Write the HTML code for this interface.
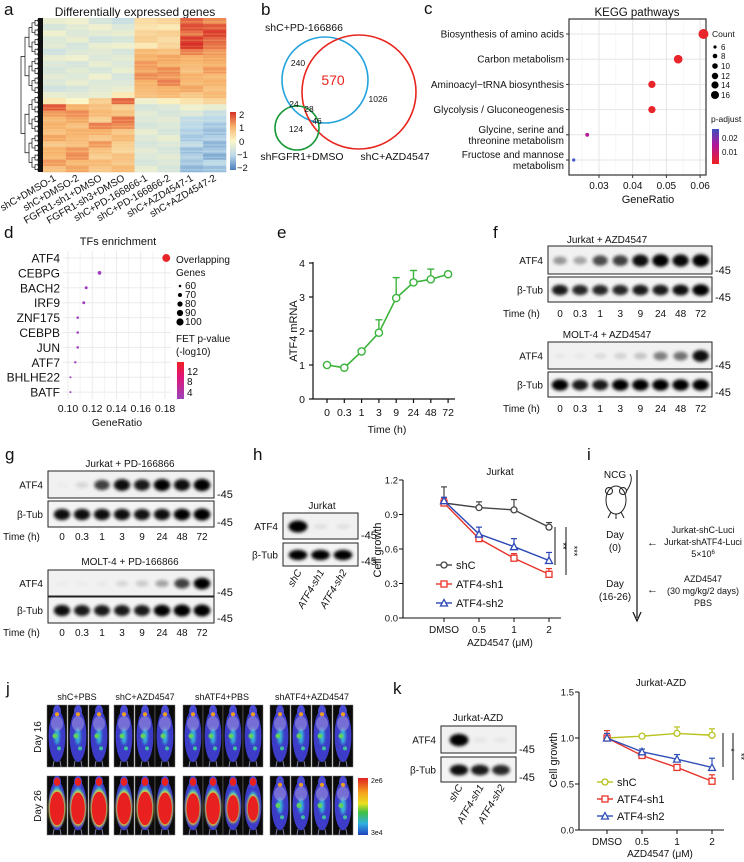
<!DOCTYPE html>
<html><head><meta charset="utf-8">
<style>
html,body{margin:0;padding:0;background:#fff;}
svg{display:block;font-family:"Liberation Sans",Arial,sans-serif;}
text{fill:#111;}
</style></head>
<body>
<svg id="fig" width="744" height="862" viewBox="0 0 744 862" xmlns="http://www.w3.org/2000/svg">
<defs>
<filter id="blur" x="-50%" y="-50%" width="200%" height="200%"><feGaussianBlur stdDeviation="1.5"/></filter>
<filter id="blur2" x="-50%" y="-50%" width="200%" height="200%"><feGaussianBlur stdDeviation="1.2"/></filter>
<linearGradient id="hmbar" x1="0" y1="0" x2="0" y2="1">
<stop offset="0" stop-color="#d73027"/><stop offset="0.25" stop-color="#f6b26b"/><stop offset="0.5" stop-color="#fbf6c8"/><stop offset="0.75" stop-color="#bcd9ea"/><stop offset="1" stop-color="#4a7ebb"/></linearGradient>
<linearGradient id="padj" x1="0" y1="0" x2="0" y2="1"><stop offset="0" stop-color="#3d4fc0"/><stop offset="0.45" stop-color="#b0169a"/><stop offset="1" stop-color="#ee2020"/></linearGradient>
<linearGradient id="fet" x1="0" y1="0" x2="0" y2="1"><stop offset="0" stop-color="#ee2222"/><stop offset="0.4" stop-color="#e0157a"/><stop offset="1" stop-color="#9a44b8"/></linearGradient>
<linearGradient id="lum" x1="0" y1="0" x2="0" y2="1"><stop offset="0" stop-color="#e02020"/><stop offset="0.25" stop-color="#f5a020"/><stop offset="0.45" stop-color="#e8e020"/><stop offset="0.6" stop-color="#40c040"/><stop offset="0.8" stop-color="#30b0e0"/><stop offset="1" stop-color="#2040c0"/></linearGradient>
</defs>

<g font-size="17">
<text x="4" y="15">a</text><text x="261" y="15">b</text><text x="424" y="14">c</text>
<text x="4" y="238">d</text><text x="277" y="238">e</text><text x="493" y="238">f</text>
<text x="5" y="460">g</text><text x="253" y="460">h</text><text x="587" y="460">i</text>
<text x="6" y="694">j</text><text x="393" y="694">k</text>
</g>

<g id="pa">
<text x="135" y="16" font-size="12" text-anchor="middle">Differentially expressed genes</text>
<g id="dendro"></g>
<g id="hm"></g>
<rect x="230" y="112" width="6" height="58" fill="url(#hmbar)"/>
<g font-size="9.5">
<text x="239" y="118">2</text><text x="239" y="131">1</text><text x="239" y="145">0</text><text x="237" y="158">−1</text><text x="237" y="171">−2</text></g>
<g id="hmcols" font-size="10"></g>
</g>

<g>
<text x="304" y="31" font-size="10.5" text-anchor="middle">shC+PD-166866</text>
<circle cx="325" cy="80" r="43" fill="none" stroke="#23a3dd" stroke-width="1.6"/>
<circle cx="359" cy="92" r="57" fill="none" stroke="#e8261e" stroke-width="1.6"/>
<circle cx="297" cy="128" r="22" fill="none" stroke="#1a9a3a" stroke-width="1.6"/>
<g font-size="8.5"><text x="298" y="66" text-anchor="middle">240</text><text x="378" y="102" text-anchor="middle">1026</text>
<text x="294" y="107" text-anchor="middle">24</text><text x="309" y="112" text-anchor="middle">28</text><text x="317" y="124" text-anchor="middle">46</text><text x="296" y="132" text-anchor="middle">124</text></g>
<text x="333" y="85" font-size="14" style="fill:#e8261e" text-anchor="middle">570</text>
<text x="302" y="160" font-size="10.5" text-anchor="middle">shFGFR1+DMSO</text>
<text x="395" y="160" font-size="10.5" text-anchor="middle">shC+AZD4547</text>
</g>

<g id="pc">
<text x="637" y="16" font-size="11.5" text-anchor="middle">KEGG pathways</text>
<g id="cgrid"></g>
<rect x="569" y="19" width="137" height="156" fill="none" stroke="#333" stroke-width="1.2"/>
<g id="clabels" font-size="10" text-anchor="end"></g>
<g id="cdots"></g>
<g id="cticks" font-size="10" text-anchor="middle"></g>
<text x="648" y="203" font-size="11" text-anchor="middle">GeneRatio</text>
<g font-size="8">
<text x="712" y="37" font-size="8.5">Count</text>
<circle cx="715" cy="47" r="1.6"/><text x="721" y="50">6</text>
<circle cx="715" cy="56" r="2.3"/><text x="721" y="59">8</text>
<circle cx="715" cy="66" r="2.8"/><text x="721" y="69">10</text>
<circle cx="715" cy="76" r="3.2"/><text x="721" y="79">12</text>
<circle cx="715" cy="85" r="3.6"/><text x="721" y="88">14</text>
<circle cx="715" cy="95" r="4"/><text x="721" y="98">16</text>
<text x="711" y="122" font-size="8.5">p-adjust</text>
<rect x="712" y="129" width="7" height="35" fill="url(#padj)"/>
<text x="722" y="141">0.02</text><text x="722" y="155">0.01</text></g>
</g>

<g id="pd">
<text x="118" y="245" font-size="11" text-anchor="middle">TFs enrichment</text>
<g id="dgrid"></g>
<g id="dlabels" font-size="12" text-anchor="end"></g>
<g id="ddots"></g>
<g id="dticks" font-size="10.5" text-anchor="middle"></g>
<text x="117" y="426" font-size="10.5" text-anchor="middle">GeneRatio</text>
<g font-size="10">
<text x="176" y="263">Overlapping</text><text x="176" y="276">Genes</text>
<circle cx="180" cy="286" r="1.3"/><text x="185" y="289">60</text>
<circle cx="180" cy="295" r="2"/><text x="185" y="298">70</text>
<circle cx="180" cy="304" r="2.6"/><text x="185" y="307">80</text>
<circle cx="180" cy="313" r="3.1"/><text x="185" y="316">90</text>
<circle cx="180" cy="322" r="3.6"/><text x="185" y="325">100</text>
<text x="176" y="342">FET p-value</text><text x="176" y="355">(-log10)</text>
<rect x="177" y="362" width="7" height="37" fill="url(#fet)"/>
<text x="187" y="375">12</text><text x="187" y="385">8</text><text x="187" y="396">4</text></g>
</g>

<g id="pe">
<text transform="translate(297,331) rotate(-90)" font-size="11" text-anchor="middle">ATF4 mRNA</text>
<line x1="313" y1="262" x2="313" y2="399.5" stroke="#111" stroke-width="1.2"/>
<line x1="313" y1="399" x2="455" y2="399" stroke="#111" stroke-width="1.2"/>
<g id="eticks" font-size="10.5"></g>
<g id="eline"></g>
<text x="387" y="433" font-size="10.5" text-anchor="middle">Time (h)</text>
</g>

<g id="pf" font-size="10"></g>
<g id="pg" font-size="10"></g>
<g id="ph" font-size="10"></g>

<g font-size="9">
<text x="615" y="478" font-size="10" text-anchor="middle">NCG</text>
<g fill="none" stroke="#222" stroke-width="1">
<ellipse cx="616" cy="500" rx="10" ry="14"/>
<circle cx="609" cy="491" r="3.5"/><circle cx="623" cy="491" r="3.5"/>
<path d="M611 512 l-3 6 M621 512 l3 6 M616 514 l0 5 M626 492 q8 -12 4 -18"/></g>
<line x1="637" y1="470" x2="637" y2="618" stroke="#111" stroke-width="1.2"/>
<path d="M633 612 L637 621 L641 612" fill="none" stroke="#111" stroke-width="1.2"/>
<text x="615" y="538" font-size="10" text-anchor="middle">Day</text><text x="615" y="551" font-size="10" text-anchor="middle">(0)</text>
<text x="615" y="587" font-size="10" text-anchor="middle">Day</text><text x="615" y="600" font-size="10" text-anchor="middle">(16-26)</text>
<text x="647" y="546" font-size="11">←</text><text x="647" y="593" font-size="11">←</text>
<g text-anchor="middle"><text x="703" y="533">Jurkat-shC-Luci</text><text x="703" y="545">Jurkat-shATF4-Luci</text><text x="703" y="557">5×10<tspan font-size="6" dy="-3">6</tspan></text>
<text x="703" y="582">AZD4547</text><text x="703" y="594">(30 mg/kg/2 days)</text><text x="703" y="606">PBS</text></g>
</g>

<g id="pj" font-size="9">
<text x="77" y="700" text-anchor="middle">shC+PBS</text><text x="145" y="700" text-anchor="middle">shC+AZD4547</text>
<text x="222" y="700" text-anchor="middle">shATF4+PBS</text><text x="312" y="700" text-anchor="middle">shATF4+AZD4547</text>
<text transform="translate(41,737) rotate(-90)" font-size="10" text-anchor="middle">Day 16</text>
<text transform="translate(41,806) rotate(-90)" font-size="10" text-anchor="middle">Day 26</text>
<rect x="358" y="778" width="10" height="57" fill="url(#lum)"/>
<text x="371" y="783" font-size="7">2e6</text><text x="371" y="835" font-size="7">3e4</text>
</g>

<g id="pk" font-size="10"></g>
</svg>

<script>
const hmValues = [
[-0.3,-0.2,-0.6,-0.8,0.4,0.5,1.6,1.3],
[-0.6,-0.4,-0.2,-0.5,0.3,0.2,1.8,1.7],
[-0.2,-0.5,-0.4,-0.3,0.5,0.6,1.5,1.9],
[-0.5,-0.3,-0.7,-0.6,0.6,0.4,1.9,1.6],
[-0.4,-0.6,-0.3,-0.2,0.2,0.5,2.0,1.5],
[-0.7,-0.5,-0.4,-0.6,0.9,0.8,1.4,1.2],
[-0.3,-0.2,-0.5,-0.4,1.0,1.1,1.0,1.1],
[-0.5,-0.6,-0.3,-0.5,1.2,1.0,0.9,1.0],
[-0.6,-0.4,-0.6,-0.3,1.1,1.3,0.8,1.2],
[-0.4,-0.5,-0.2,-0.6,1.3,1.2,1.0,0.9],
[-0.5,-0.3,-0.5,-0.5,1.0,1.4,0.9,1.0],
[-0.7,-0.6,-0.4,-0.3,0.9,1.0,1.1,0.8],
[-0.3,-0.4,-0.3,0.2,0.8,0.9,0.7,0.9],
[0.2,0.0,0.6,1.6,-0.2,0.1,0.3,0.5],
[1.7,1.0,0.8,0.6,-0.6,-0.5,-0.2,-0.3],
[1.2,1.3,0.9,0.8,-0.4,-0.6,-0.5,-0.8],
[0.9,1.1,0.6,1.5,-0.5,-0.4,-0.9,-1.0],
[1.0,0.8,1.4,1.3,-0.6,-0.5,-1.0,-1.2],
[0.8,1.0,1.0,0.7,-0.3,-0.6,-1.1,-1.3],
[1.1,0.9,0.7,0.9,-0.5,-0.3,-1.2,-1.1],
[0.7,0.8,1.2,0.6,-0.6,-0.5,-0.9,-1.4],
[1.0,1.2,0.8,0.5,-0.4,-0.6,-1.3,-1.2],
[0.9,1.3,0.6,0.8,-0.5,-0.4,-1.1,-1.5],
[1.2,0.9,0.9,0.7,-0.6,-0.5,-1.2,-1.0],
[0.8,1.1,0.7,0.9,-0.3,-0.6,-1.4,-1.3]];
const hmSamples = ["shC+DMSO-1","shC+DMSO-2","FGFR1-sh1+DMSO","FGFR1-sh3+DMSO","shC+PD-166866-1","shC+PD-166866-2","shC+AZD4547-1","shC+AZD4547-2"];

const keggTerms = ["Biosynthesis of amino acids","Carbon metabolism","Aminoacyl−tRNA biosynthesis","Glycolysis / Gluconeogenesis","Glycine, serine and|threonine metabolism","Fructose and mannose|metabolism"];
const keggRatio = [0.061,0.0535,0.0457,0.0457,0.0265,0.0225];
const keggCount = [16,14,12,12,7,6];
const keggPadj = [0.003,0.003,0.004,0.004,0.013,0.024];
const keggTicks = [0.03,0.04,0.05,0.06];

const tfNames = ["ATF4","CEBPG","BACH2","IRF9","ZNF175","CEBPB","JUN","ATF7","BHLHE22","BATF"];
const tfRatio = [0.181,0.126,0.115,0.113,0.108,0.108,0.108,0.106,0.102,0.102];
const tfGenes = [100,70,65,64,62,62,62,61,58,58];
const tfP = [13,5,4,4,4,4,4,4,3,3];
const tfTicks = [0.10,0.12,0.14,0.16,0.18];

const timeLabels = ["0","0.3","1","3","9","24","48","72"];
const atf4Mrna = [1.0,0.92,1.4,1.95,2.97,3.43,3.52,3.67];
const atf4Err = [0.02,0.02,0.02,0.38,0.6,0.35,0.3,0.06];
const eTicks = [0,1,2,3,4];

const fJurkatAtf4 = [0.35,0.3,0.65,0.7,0.9,0.95,0.92,0.98];
const fJurkatTub = [0.85,0.8,0.8,0.8,0.85,0.85,0.9,1.0];
const fMoltAtf4 = [0.03,0.03,0.08,0.12,0.18,0.45,0.5,0.9];
const fMoltTub = [0.95,0.85,0.85,0.95,0.95,0.95,0.95,0.95];
const gJurkatAtf4 = [0.02,0.1,0.7,0.9,0.85,0.95,0.9,0.98];
const gJurkatTub = [0.9,0.9,0.9,0.9,0.88,0.9,0.95,1.0];
const gMoltAtf4 = [0.02,0.02,0.03,0.1,0.15,0.3,0.7,0.95];
const gMoltTub = [0.9,0.85,0.85,0.85,0.85,0.95,1.0,1.0];
const kdLanes = ["shC","ATF4-sh1","ATF4-sh2"];
const hKdAtf4 = [1.0,0.06,0.06];
const hKdTub = [0.95,0.95,0.95];
const kKdAtf4 = [1.0,0.04,0.04];
const kKdTub = [0.9,0.85,0.8];

const doseLabels = ["DMSO","0.5","1","2"];
const hShC = [1.0,0.96,0.94,0.79];
const hShCErr = [0.14,0.05,0.09,0.04];
const hSh1 = [1.0,0.69,0.52,0.38];
const hSh1Err = [0.04,0.02,0.04,0.05];
const hSh2 = [1.02,0.73,0.62,0.50];
const hSh2Err = [0.03,0.06,0.07,0.07];
const hTicks = [0.0,0.3,0.6,0.9,1.2];

const kShC = [1.0,1.02,1.05,1.03];
const kShCErr = [0.05,0.02,0.07,0.07];
const kSh1 = [1.0,0.81,0.68,0.53];
const kSh1Err = [0.08,0.03,0.03,0.07];
const kSh2 = [1.0,0.85,0.77,0.68];
const kSh2Err = [0.05,0.03,0.05,0.1];
const kTicks = [0.0,0.5,1.0,1.5];

const lumDay16 = [[0.3,0.35,0.3],[0.3,0.35,0.3],[0.3,0.3,0.3,0.25],[0.25,0.25,0.3,0.3]];
const lumDay26 = [[0.95,0.9,0.95],[0.9,0.95,0.9],[0.85,0.9,0.75,0.7],[0.35,0.3,0.4,0.45]];

const NS="http://www.w3.org/2000/svg";
function E(tag,attrs,parent){const el=document.createElementNS(NS,tag);for(const k in attrs)el.setAttribute(k,attrs[k]);parent.appendChild(el);return el;}
function T(txt,attrs,parent){const el=E('text',attrs,parent);el.textContent=txt;return el;}
const $=id=>document.getElementById(id);

function lerp(a,b,t){return a+(b-a)*t;}
const hmStops=[[-2,[74,126,187]],[-1,[188,217,234]],[0,[251,246,200]],[1,[246,178,107]],[2,[215,48,39]]];
function hmColor(v){v=Math.max(-2,Math.min(2,v));for(let i=0;i<4;i++){const a=hmStops[i],b=hmStops[i+1];if(v<=b[0]){const t=(v-a[0])/(b[0]-a[0]);return 'rgb('+a[1].map((c,j)=>Math.round(lerp(c,b[1][j],t))).join(',')+')';}}return 'rgb(215,48,39)';}
const hmX0=43,hmX1=226,hmY0=18,hmY1=172;
const cw=(hmX1-hmX0)/hmSamples.length, rh=(hmY1-hmY0)/hmValues.length;
hmValues.forEach((row,r)=>row.forEach((v,c)=>{
  const el=E('rect',{x:hmX0+c*cw,y:hmY0+r*rh,width:cw+0.3,height:rh+0.3,fill:hmColor(v)},$('hm'));
  
  
  E('rect',{x:hmX0+c*cw,y:hmY0+r*rh+rh*0.5,width:cw+0.3,height:rh*0.25,fill:hmColor(v*0.8),opacity:0.7},$('hm'));
}));
hmSamples.forEach((s,c)=>{
  const el=T(s,{transform:'translate('+(hmX0+c*cw+cw*0.6)+',180) rotate(-30)','text-anchor':'end'},$('hmcols'));
  
  
});
(function(){const g=$('dendro');
 E('rect',{x:38,y:18,width:5,height:154,fill:'#111'},g);
 function br(y0,y1,x,depth){if(depth>5)return;const ym=(y0+y1)/2;const xa=x+ (depth<2?4:3);
  E('path',{d:'M'+xa+' '+((y0+ym)/2)+' L'+x+' '+((y0+ym)/2)+' L'+x+' '+((ym+y1)/2)+' L'+xa+' '+((ym+y1)/2),fill:'none',stroke:'#111','stroke-width':0.7},g);
  br(y0,ym,xa,depth+1);br(ym,y1,xa,depth+1);}
 br(18,172,21,0);})();

const xC=v=>599+(v-0.03)*3370, yC=i=>34+i*25.2;
keggTicks.forEach(t=>{E('line',{x1:xC(t),y1:19,x2:xC(t),y2:175,stroke:'#e6e6e6','stroke-width':1},$('cgrid'));
 E('line',{x1:xC(t-0.005),y1:19,x2:xC(t-0.005),y2:175,stroke:'#f2f2f2','stroke-width':0.6},$('cgrid'));
 E('line',{x1:xC(t),y1:175,x2:xC(t),y2:178,stroke:'#333'},$('cticks'));
 const el=T(t.toFixed(2),{x:xC(t),y:189},$('cticks'));
 
 });
keggTerms.forEach((n,i)=>{E('line',{x1:569,y1:yC(i),x2:706,y2:yC(i),stroke:'#e6e6e6'},$('cgrid'));
 E('line',{x1:566,y1:yC(i),x2:569,y2:yC(i),stroke:'#333'},$('clabels'));
 const parts=n.split('|');
 parts.forEach((p,j)=>{const el=T(p,{x:564,y:yC(i)+3.5+(j-(parts.length-1)/2)*11},$('clabels'));
  
  });});
function padjColor(p){if(p<0.008)return '#e8252a';if(p<0.018)return '#b8179a';return '#3d55c8';}
keggRatio.forEach((v,i)=>{const el=E('circle',{cx:xC(v),cy:yC(i),r:1.6+(keggCount[i]-6)*0.34,fill:padjColor(keggPadj[i])},$('cdots'));
 
 });

const xD=v=>68+(v-0.10)*1213, yD=i=>258+i*14.9;
E('rect',{x:63,y:251,width:108,height:148,fill:'#fff'},$('dgrid'));
tfTicks.forEach(t=>{E('line',{x1:xD(t),y1:251,x2:xD(t),y2:399,stroke:'#ebebeb'},$('dgrid'));
 E('line',{x1:xD(t+0.01),y1:251,x2:xD(t+0.01),y2:399,stroke:'#f3f3f3'},$('dgrid'));
 const el=T(t.toFixed(2),{x:xD(t),y:412},$('dticks'));
 
 });
tfNames.forEach((n,i)=>{E('line',{x1:63,y1:yD(i),x2:171,y2:yD(i),stroke:'#ebebeb'},$('dgrid'));
 const el=T(n,{x:60,y:yD(i)+4.5},$('dlabels'));
 
 });
tfRatio.forEach((v,i)=>{const el=E('circle',{cx:xD(v),cy:yD(i),r:1+(tfGenes[i]-58)*0.07,fill:tfP[i]>10?'#e8262a':'#a23cc0'},$('ddots'));
 
 });

const xE=i=>327+i*17.3, yE=v=>399-v*34;
eTicks.forEach(t=>{E('line',{x1:309,y1:yE(t),x2:313,y2:yE(t),stroke:'#111','stroke-width':1.2},$('eticks'));
 const el=T(String(t),{x:305,y:yE(t)+4,'text-anchor':'end'},$('eticks'));
 
 });
timeLabels.forEach((t,i)=>{E('line',{x1:xE(i),y1:399,x2:xE(i),y2:403,stroke:'#111','stroke-width':1.2},$('eticks'));
 const el=T(t,{x:xE(i),y:416,'text-anchor':'middle'},$('eticks'));
 
 });
(function(){const g=$('eline');const col='#3cb43c';
 atf4Mrna.forEach((v,i)=>{if(atf4Err[i]>0.05){const ey=yE(v+atf4Err[i]);E('line',{x1:xE(i),y1:yE(v),x2:xE(i),y2:ey,stroke:col,'stroke-width':1.4},g);E('line',{x1:xE(i)-3.5,y1:ey,x2:xE(i)+3.5,y2:ey,stroke:col,'stroke-width':1.4},g);}});
 const pl=E('polyline',{points:atf4Mrna.map((v,i)=>xE(i)+','+yE(v)).join(' '),fill:'none',stroke:col,'stroke-width':1.6},g);
 
 
 atf4Mrna.forEach((v,i)=>{const c=E('circle',{cx:xE(i),cy:yE(v),r:3.6,fill:'#fff',stroke:col,'stroke-width':1.4},g);
  
  });})();

function blot(g,x,y,w,h,lanes,vals,bandW,bg){
 const box=E('rect',{x:x,y:y,width:w,height:h,fill:bg,stroke:'#222','stroke-width':1},g);
 
 
 vals.forEach((v,i)=>{const b=E('ellipse',{cx:lanes[i],cy:y+h*0.52,rx:bandW*(0.75+0.3*v),ry:h*(0.1+0.13*v),fill:'#000',opacity:Math.min(1,v*1.05),filter:'url(#blur)'},g);
  
  });
}
function blotSet(g,cfg){
 T(cfg.title,{x:cfg.cx,y:cfg.ty,'text-anchor':'middle'},g);
 const lanes=cfg.vals1.map((_,i)=>cfg.l0+i*cfg.ls);
 blot(g,cfg.x,cfg.y1,cfg.w,cfg.h1,lanes,cfg.vals1,cfg.bw,'#f1f1f1');
 blot(g,cfg.x,cfg.y2,cfg.w,cfg.h2,lanes,cfg.vals2,cfg.bw,'#f4f4f4');
 T('ATF4',{x:cfg.x-5,y:cfg.y1+cfg.h1/2+4,'text-anchor':'end'},g);
 T('β-Tub',{x:cfg.x-5,y:cfg.y2+cfg.h2/2+4,'text-anchor':'end'},g);
 T('-45',{x:cfg.x+cfg.w+3,y:cfg.y1+cfg.h1,'font-size':11},g);
 T('-45',{x:cfg.x+cfg.w+3,y:cfg.y2+cfg.h2-1,'font-size':11},g);
 if(cfg.time){T('Time (h)',{x:cfg.tx,y:cfg.timeY},g);
  timeLabels.forEach((t,i)=>{const el=T(t,{x:lanes[i],y:cfg.timeY,'text-anchor':'middle'},g);
   
   });}
 return lanes;
}
blotSet($('pf'),{title:'Jurkat + AZD4547',cx:607,ty:243,x:548,y1:246,h1:28,y2:277,h2:25,w:164,l0:560,ls:20.1,bw:8,vals1:fJurkatAtf4,vals2:fJurkatTub,time:true,tx:503,timeY:317});
blotSet($('pf'),{title:'MOLT-4 + AZD4547',cx:607,ty:338,x:548,y1:342,h1:27,y2:372,h2:25,w:164,l0:560,ls:20.1,bw:8,vals1:fMoltAtf4,vals2:fMoltTub,time:true,tx:503,timeY:412});
blotSet($('pg'),{title:'Jurkat + PD-166866',cx:130,ty:467,x:48,y1:471,h1:27,y2:501,h2:26,w:166,l0:62,ls:20,bw:8,vals1:gJurkatAtf4,vals2:gJurkatTub,time:true,tx:3,timeY:540});
blotSet($('pg'),{title:'MOLT-4 + PD-166866',cx:130,ty:565,x:48,y1:570,h1:26,y2:597,h2:26,w:166,l0:62,ls:20,bw:8,vals1:gMoltAtf4,vals2:gMoltTub,time:true,tx:3,timeY:636});

function kdBlot(g,title,cx,ty,x,y1,h1,y2,h2,w,l0,ls,v1,v2,labY){
 blotSet(g,{title:title,cx:cx,ty:ty,x:x,y1:y1,h1:h1,y2:y2,h2:h2,w:w,l0:l0,ls:ls,bw:9,vals1:v1,vals2:v2,time:false});
 kdLanes.forEach((l,i)=>{const el=T(l,{transform:'translate('+(l0+i*ls+4)+','+labY+') rotate(-60)','text-anchor':'end','font-style':'italic'},g);
  
  });
}
kdBlot($('ph'),'Jurkat',322,509,283,513,26,543,23,75,298,22.5,hKdAtf4,hKdTub,572);
kdBlot($('pk'),'Jurkat-AZD',478,721,441,726,27,757,25,75,459,21,kKdAtf4,kKdTub,787);

function growth(g,o){
 const xF=i=>o.x0+i*o.dx, yF=v=>o.yb-v*o.sy;
 T(o.title,{x:o.tcx,y:o.ty,'text-anchor':'middle'},g);
 E('line',{x1:o.ax,y1:yF(o.ticks[o.ticks.length-1]),x2:o.ax,y2:o.yb,stroke:'#111','stroke-width':1.1},g);
 E('line',{x1:o.ax,y1:o.yb,x2:xF(3)+12,y2:o.yb,stroke:'#111','stroke-width':1.1},g);
 o.ticks.forEach(t=>{E('line',{x1:o.ax-4,y1:yF(t),x2:o.ax,y2:yF(t),stroke:'#111'},g);
  const el=T(t.toFixed(1),{x:o.ax-5,y:yF(t)+3.5,'text-anchor':'end','font-size':9.5},g);
  
  });
 doseLabels.forEach((d,i)=>{E('line',{x1:xF(i),y1:o.yb,x2:xF(i),y2:o.yb+4,stroke:'#111'},g);
  const el=T(d,{x:xF(i),y:o.yb+15,'text-anchor':'middle'},g);
  
  });
 T('AZD4547 (μM)',{x:o.xlx,y:o.xly,'text-anchor':'middle'},g);
 T('Cell growth',{transform:'translate('+o.ylx+','+o.yly+') rotate(-90)','text-anchor':'middle','font-size':11},g);
 o.series.forEach((s,si)=>{
  s.v.forEach((v,i)=>{const ey=yF(v+s.e[i]);E('line',{x1:xF(i),y1:yF(v),x2:xF(i),y2:ey,stroke:s.c,'stroke-width':1.2},g);E('line',{x1:xF(i)-3,y1:ey,x2:xF(i)+3,y2:ey,stroke:s.c,'stroke-width':1.2},g);});
  const pl=E('polyline',{points:s.v.map((v,i)=>xF(i)+','+yF(v)).join(' '),fill:'none',stroke:s.c,'stroke-width':1.4},g);
  
  
  s.v.forEach((v,i)=>{marker(g,s.m,xF(i),yF(v),s.c);});
  const ly=o.legY[si];
  E('line',{x1:o.legX,y1:ly,x2:o.legX+16,y2:ly,stroke:s.c,'stroke-width':1.4},g);
  marker(g,s.m,o.legX+8,ly,s.c);
  const lt=T(s.n,{x:o.legX+20,y:ly+4,'font-size':11},g);
  
  
 });
 o.sig.forEach(s=>{E('line',{x1:s.x,y1:s.y1,x2:s.x,y2:s.y2,stroke:'#111'},g);
  T(s.t,{transform:'translate('+(s.x+5)+','+((s.y1+s.y2)/2)+') rotate(90)','text-anchor':'middle','font-size':9},g);});
}
function marker(g,m,x,y,c){let el;
 if(m==='o')el=E('circle',{cx:x,cy:y,r:3,fill:'#fff',stroke:c,'stroke-width':1.3},g);
 else if(m==='s')el=E('rect',{x:x-3,y:y-3,width:6,height:6,fill:'#fff',stroke:c,'stroke-width':1.3},g);
 else el=E('path',{d:'M'+x+' '+(y-3.5)+' L'+(x+3.5)+' '+(y+3)+' L'+(x-3.5)+' '+(y+3)+' Z',fill:'#fff',stroke:c,'stroke-width':1.3},g);
 
 }
growth($('ph'),{title:'Jurkat',tcx:500,ty:475,x0:444,dx:35,yb:618,sy:115,ax:403,ticks:hTicks,xlx:500,xly:646,ylx:381,yly:550,
 legX:436,legY:[565,584,603],
 series:[{n:'shC',v:hShC,e:hShCErr,c:'#444',m:'o'},{n:'ATF4-sh1',v:hSh1,e:hSh1Err,c:'#e8332a',m:'s'},{n:'ATF4-sh2',v:hSh2,e:hSh2Err,c:'#2a45b5',m:'t'}],
 sig:[{x:555,y1:527,y2:565,t:'**'},{x:566,y1:527,y2:575,t:'***'}]});
growth($('pk'),{title:'Jurkat-AZD',tcx:661,ty:686,x0:607,dx:35,yb:830,sy:92,ax:579,ticks:kTicks,xlx:660,xly:857,ylx:557,yly:760,
 legX:597,legY:[782,799,816],
 series:[{n:'shC',v:kShC,e:kShCErr,c:'#b8c21c',m:'o'},{n:'ATF4-sh1',v:kSh1,e:kSh1Err,c:'#e8332a',m:'s'},{n:'ATF4-sh2',v:kSh2,e:kSh2Err,c:'#3050b8',m:'t'}],
 sig:[{x:723,y1:733,y2:767,t:'*'},{x:733,y1:733,y2:780,t:'**'}]});

const groupX=[[47,68,89],[114,135,155],[183,203,223,243],[270,291,312,333]];
function mouseImg(g,x,y,w,h,lum){
 const r=E('rect',{x:x,y:y,width:w,height:h,fill:'#0b0b0b',stroke:'#777','stroke-width':0.5},g);
 
 
 const cx=x+w/2;
 E('ellipse',{cx:cx,cy:y+h*0.5,rx:w*0.42,ry:h*0.42,fill:'#3c3cc8'},g);
 E('ellipse',{cx:cx,cy:y+h*0.1,rx:w*0.2,ry:h*0.1,fill:'#4a4ad0'},g);
 E('line',{x1:cx-3,y1:y+h*0.9,x2:cx-4,y2:y+h,stroke:'#8080a0','stroke-width':1},g);
 E('line',{x1:cx+3,y1:y+h*0.9,x2:cx+4,y2:y+h,stroke:'#8080a0','stroke-width':1},g);
 E('ellipse',{cx:cx,cy:y+h*0.5,rx:w*0.32*Math.max(0.4,lum),ry:h*0.34*Math.max(0.4,lum),fill:'#38b8d8',filter:'url(#blur2)'},g);
 if(lum>0.5){E('ellipse',{cx:cx,cy:y+h*0.55,rx:w*0.42*lum,ry:h*0.33*lum,fill:'#f0e020',filter:'url(#blur2)'},g);
  E('ellipse',{cx:cx,cy:y+h*0.55,rx:w*0.38*lum,ry:h*0.3*lum,fill:'#e82020'},g);
  E('ellipse',{cx:cx,cy:y+h*0.1,rx:w*0.16,ry:h*0.07,fill:'#e82020'},g);}
 else{E('circle',{cx:cx,cy:y+h*0.15,r:2,fill:'#f0a020'},g);E('circle',{cx:cx-2,cy:y+h*0.5,r:2.5,fill:'#60d060'},g);
  E('circle',{cx:cx+2,cy:y+h*0.7,r:2,fill:'#40c0a0'},g);
  E('ellipse',{cx:cx,cy:y+h*0.3,rx:w*0.3,ry:h*0.12,fill:'#b0a0e0',opacity:0.5},g);}
}
groupX.forEach((xs,gi)=>xs.forEach((x,k)=>{mouseImg($('pj'),x,705,20,62,lumDay16[gi][k]);mouseImg($('pj'),x,776,20,59,lumDay26[gi][k]);}));
</script>
</body></html>
